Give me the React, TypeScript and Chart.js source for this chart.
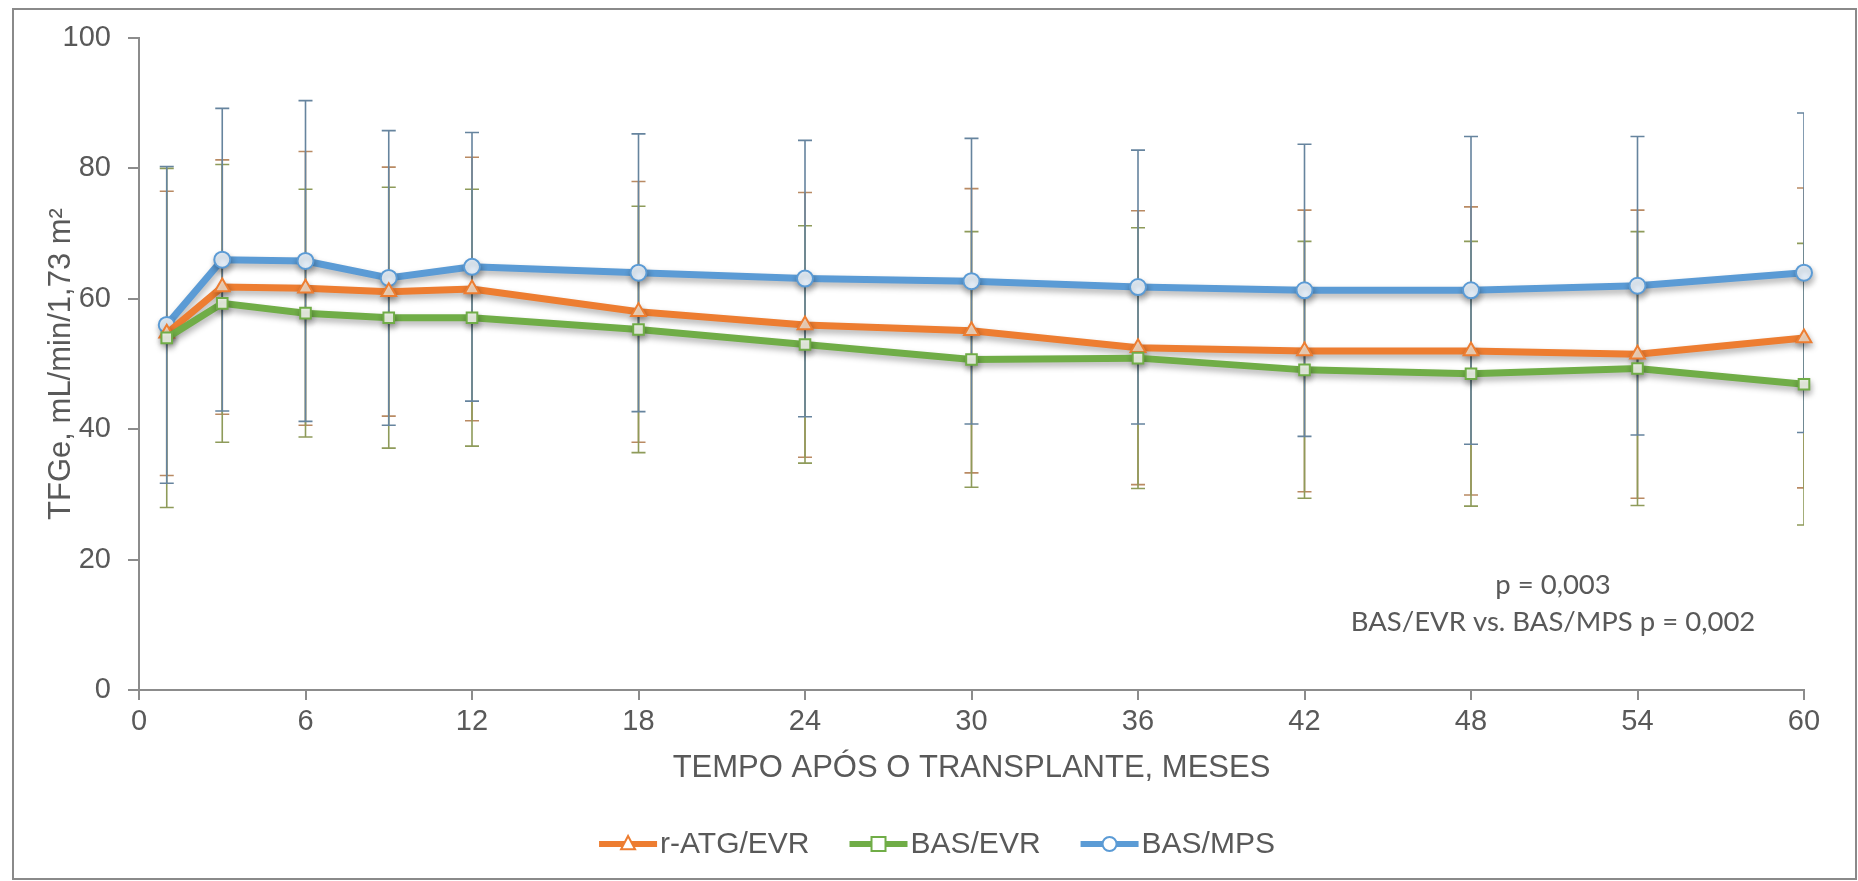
import React, { useEffect, useRef } from 'react';
import { Chart, registerables } from 'chart.js';

Chart.register(...registerables);

// Months after transplant at which eGFR was measured
const months = [1, 3, 6, 9, 12, 18, 24, 30, 36, 42, 48, 54, 60];

// Mean eGFR and standard deviation per group
const ratgMean = [54.7, 61.8, 61.6, 61.1, 61.5, 58.0, 56.0, 55.1, 52.5, 52.0, 52.0, 51.5, 54.0];
const ratgSd = [21.8, 19.5, 21.0, 19.1, 20.2, 20.0, 20.3, 21.8, 21.0, 21.6, 22.1, 22.1, 23.0];

const basEvrMean = [54.0, 59.3, 57.8, 57.1, 57.1, 55.3, 53.0, 50.7, 50.9, 49.1, 48.5, 49.3, 46.9];
const basEvrSd = [26.0, 21.3, 19.0, 20.0, 19.7, 18.9, 18.2, 19.6, 20.0, 19.7, 20.3, 21.0, 21.6];

const basMpsMean = [56.0, 66.0, 65.8, 63.2, 64.9, 64.0, 63.1, 62.7, 61.8, 61.3, 61.3, 62.0, 64.0];
const basMpsSd = [24.3, 23.2, 24.6, 22.6, 20.6, 21.3, 21.2, 21.9, 21.0, 22.4, 23.6, 22.9, 24.5];

const seriesNames = ['r-ATG/EVR', 'BAS/EVR', 'BAS/MPS'];

const xAxisTitle = 'TEMPO APÓS O TRANSPLANTE, MESES';
const yAxisTitle = 'TFGe, mL/min/1,73 m²';
const pValueLines = ['p = 0,003', 'BAS/EVR vs. BAS/MPS p = 0,002'];

const TEXT = '#595959';
const AXIS = '#8c8c8c';
const SANS = '"Liberation Sans", Arial, sans-serif';

type Series = {
  name: string;
  mean: number[];
  sd: number[];
  color: string;
  fill: string;
  errColor: string;
  marker: 'triangle' | 'rect' | 'circle';
  size: number;
  order: number;
};

const series: Series[] = [
  { name: seriesNames[0], mean: ratgMean, sd: ratgSd, color: '#ED7D31', fill: '#FCDDC2', errColor: '#B98A63', marker: 'triangle', size: 8.5, order: 2 },
  { name: seriesNames[1], mean: basEvrMean, sd: basEvrSd, color: '#70AD47', fill: '#F1F8EA', errColor: '#8E9B5A', marker: 'rect', size: 7.5, order: 1 },
  { name: seriesNames[2], mean: basMpsMean, sd: basMpsSd, color: '#5B9BD5', fill: '#E6F0FA', errColor: '#66849E', marker: 'circle', size: 8, order: 3 },
];

// Vertical ±SD bars behind the lines, clipped to the plot area
const errorBars = {
  id: 'errorBars',
  beforeDatasetsDraw(chart: any) {
    const { ctx, chartArea, scales } = chart;
    const x = scales.x;
    const y = scales.y;
    ctx.save();
    ctx.beginPath();
    ctx.rect(chartArea.left, chartArea.top, chartArea.right - chartArea.left, chartArea.bottom - chartArea.top);
    ctx.clip();
    ctx.lineWidth = 1.6;
    series.forEach((s) => {
      ctx.strokeStyle = s.errColor;
      months.forEach((m, j) => {
        const px = x.getPixelForValue(m);
        const top = y.getPixelForValue(s.mean[j] + s.sd[j]);
        const bot = y.getPixelForValue(s.mean[j] - s.sd[j]);
        ctx.beginPath();
        ctx.moveTo(px, top);
        ctx.lineTo(px, bot);
        ctx.moveTo(px - 7, top);
        ctx.lineTo(px + 7, top);
        ctx.moveTo(px - 7, bot);
        ctx.lineTo(px + 7, bot);
        ctx.stroke();
      });
    });
    ctx.restore();
  },
};

// Soft drop shadow under each line
const lineShadow = {
  id: 'lineShadow',
  beforeDatasetDraw(chart: any) {
    const ctx = chart.ctx;
    ctx.save();
    ctx.shadowColor = 'rgba(0,0,0,0.3)';
    ctx.shadowBlur = 6;
    ctx.shadowOffsetX = 1;
    ctx.shadowOffsetY = 4;
  },
  afterDatasetDraw(chart: any) {
    chart.ctx.restore();
  },
};

function drawMarker(ctx: CanvasRenderingContext2D, kind: string, cx: number, cy: number, r: number) {
  ctx.beginPath();
  if (kind === 'circle') {
    ctx.arc(cx, cy, r, 0, Math.PI * 2);
  } else if (kind === 'rect') {
    ctx.rect(cx - r, cy - r, r * 2, r * 2);
  } else {
    ctx.moveTo(cx, cy - r * 1.15);
    ctx.lineTo(cx + r, cy + r * 0.75);
    ctx.lineTo(cx - r, cy + r * 0.75);
    ctx.closePath();
  }
  ctx.fill();
  ctx.stroke();
}

// Frame, legend and p-value notes
const decorations = {
  id: 'decorations',
  afterDraw(chart: any) {
    const ctx: CanvasRenderingContext2D = chart.ctx;
    ctx.save();

    ctx.strokeStyle = '#8a8a8a';
    ctx.lineWidth = 2;
    ctx.strokeRect(13, 9, 1843, 870);

    ctx.fillStyle = TEXT;
    ctx.font = '27.5px Lato';
    ctx.textAlign = 'center';
    ctx.textBaseline = 'middle';
    ctx.fillText(pValueLines[0], 1553, 585);
    ctx.fillText(pValueLines[1], 1553, 622);

    // legend
    const legendY = 844;
    ctx.font = `30px ${SANS}`;
    const symW = 58;
    const gapText = 3;
    const gapItem = 40;
    const widths = series.map((s) => ctx.measureText(s.name).width);
    const total = widths.reduce((a, b) => a + b, 0) + series.length * (symW + gapText) + gapItem * (series.length - 1);
    let cx = 937 - total / 2;
    series.forEach((s, i) => {
      ctx.strokeStyle = s.color;
      ctx.lineWidth = 6;
      ctx.beginPath();
      ctx.moveTo(cx, legendY);
      ctx.lineTo(cx + symW, legendY);
      ctx.stroke();
      ctx.fillStyle = '#ffffff';
      ctx.lineWidth = 2;
      drawMarker(ctx, s.marker, cx + symW / 2, legendY, 7);
      const tx = cx + symW + gapText;
      ctx.fillStyle = TEXT;
      ctx.textAlign = 'left';
      ctx.textBaseline = 'middle';
      ctx.fillText(s.name, tx, legendY + 1);
      cx = tx + widths[i] + gapItem;
    });

    ctx.restore();
  },
};

export default function App() {
  const canvasRef = useRef<HTMLCanvasElement | null>(null);

  useEffect(() => {
    document.body.style.margin = '0';
    const canvas = canvasRef.current;
    if (!canvas) return;

    const chart = new Chart(canvas, {
      type: 'line',
      data: {
        datasets: series.map((s) => ({
          label: s.name,
          data: months.map((m, j) => ({ x: m, y: s.mean[j] })),
          borderColor: s.color,
          backgroundColor: s.fill,
          borderWidth: 7,
          pointStyle: s.marker,
          pointRadius: s.size,
          pointBorderWidth: 2,
          pointBorderColor: s.color,
          pointBackgroundColor: s.fill,
          tension: 0,
          clip: false,
          order: s.order,
        })),
      },
      options: {
        responsive: false,
        animation: false,
        layout: { padding: { left: 0, right: 54, top: 38, bottom: 91 } },
        plugins: {
          legend: { display: false },
          tooltip: { enabled: false },
        },
        scales: {
          x: {
            type: 'linear',
            min: 0,
            max: 60,
            afterFit: (scale: any) => {
              scale.height = 100;
            },
            ticks: {
              stepSize: 6,
              color: TEXT,
              padding: 5,
              font: { family: SANS, size: 29 },
            },
            grid: {
              drawOnChartArea: false,
              drawTicks: true,
              tickLength: 10,
              color: AXIS,
              lineWidth: 2,
            },
            border: { color: AXIS, width: 2 },
            title: {
              display: true,
              text: xAxisTitle,
              color: TEXT,
              font: { family: SANS, size: 31 },
              padding: { top: 0, bottom: 3 },
            },
          },
          y: {
            min: 0,
            max: 100,
            afterFit: (scale: any) => {
              scale.width = 139;
            },
            ticks: {
              stepSize: 20,
              color: TEXT,
              padding: 17,
              font: { family: SANS, size: 29 },
            },
            grid: {
              drawOnChartArea: false,
              drawTicks: true,
              tickLength: 11,
              color: AXIS,
              lineWidth: 2,
            },
            border: { color: AXIS, width: 2 },
            title: {
              display: true,
              text: yAxisTitle,
              color: TEXT,
              font: { family: SANS, size: 31 },
              padding: { top: 43, bottom: 0 },
            },
          },
        },
      },
      plugins: [errorBars, lineShadow, decorations],
    });

    return () => chart.destroy();
  }, []);

  return <canvas ref={canvasRef} width={1858} height={881} style={{ display: 'block' }} />;
}
